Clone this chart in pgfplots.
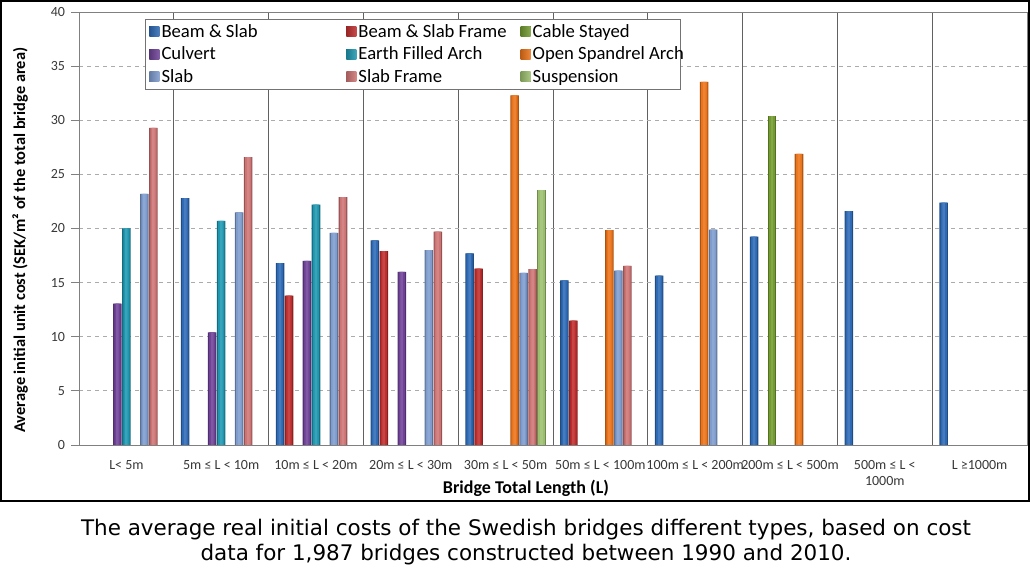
\documentclass[border=0pt]{standalone}
\usepackage{fontspec}
\setmainfont{Carlito}
\newfontfamily\capfont{DejaVu Sans}
\usepackage{pgfplots}
\pgfplotsset{compat=1.18}
\definecolor{cBS}{RGB}{45,105,180}
\definecolor{cBSF}{RGB}{190,45,45}
\definecolor{cCS}{RGB}{115,155,50}
\definecolor{cCU}{RGB}{110,65,150}
\definecolor{cEF}{RGB}{30,150,175}
\definecolor{cOS}{RGB}{235,115,25}
\definecolor{cSL}{RGB}{125,155,205}
\definecolor{cSF}{RGB}{205,115,115}
\definecolor{cSU}{RGB}{155,190,110}
\pgfplotsset{
  sbA/.style n args={2}{ybar, bar width=0.09, bar shift=#2, draw=none, fill=#1!72!black,
    legend image code/.code={\path[draw=none, left color=#1!80!black, right color=#1!85!white] (0pt,-3.6pt) rectangle (7.5pt,3.9pt);}},
  sbB/.style n args={2}{ybar, bar width=0.066, bar shift=#2, draw=none, fill=#1, forget plot},
  sbC/.style n args={2}{ybar, bar width=0.028, bar shift=#2, draw=none, fill=#1!88!white, forget plot},
}
\newcommand\series[5]{%
  \addplot[sbA={#1}{#2}] coordinates {#3};
  \addlegendentry{\makebox[#5][l]{#4}}
  \addplot[sbB={#1}{#2}] coordinates {#3};
  \addplot[sbC={#1}{#2}] coordinates {#3};
}
\begin{document}
\begin{tikzpicture}
\path[use as bounding box] (0,0) rectangle (772.5pt,435pt);
\draw[black, line width=1.3pt] (0.6pt,434.4pt) rectangle (771.9pt,59.4pt);
\begin{axis}[
  at={(59.25pt,101.25pt)}, anchor=south west,
  scale only axis, width=711pt, height=324.75pt,
  xmin=-0.5, xmax=9.5, ymin=0, ymax=40,
  ytick={0,5,...,40},
  xtick={0,...,9},
  xticklabels={L< 5m, 5m ≤ L < 10m, 10m ≤ L < 20m, 20m ≤ L < 30m, 30m ≤ L < 50m, 50m ≤ L < 100m, 100m ≤ L < 200m, 200m ≤ L < 500m, {500m ≤ L <\\1000m}, L ≥1000m},
  minor xtick={0.5,1.5,...,8.5},
  xminorgrids, ymajorgrids,
  minor x grid style={draw=black!62, line width=0.7pt},
  major y grid style={dashed, draw=black!33, line width=0.6pt},
  axis line style={draw=black!50, line width=0.7pt},
  tick pos=left, tick align=outside,
  x tick style={draw=none}, minor tick length=0pt,
  y tick style={draw=black!50, line width=0.6pt}, major tick length=6pt,
  /pgf/number format/assume math mode=true,
  tick label style={font=\fontsize{10.5}{12}\selectfont, text=black!78},
  xticklabel style={align=center, yshift=-2pt, font=\fontsize{10.5}{12}\selectfont},
  yticklabel style={xshift=-1pt},
  xlabel={Bridge Total Length (L)},
  xlabel style={at={(axis description cs:0.4715,0)}, anchor=center, yshift=-32.5pt, font=\bfseries\fontsize{13.5}{15}\selectfont},
  ylabel={Average initial unit cost (SEK/m² of the total bridge area)},
  ylabel style={at={(axis description cs:-0.0622,0.473)}, anchor=center, font=\bfseries\fontsize{12.3}{14}\selectfont},
  legend columns=3,
  legend cell align=left,
  legend style={at={(axis description cs:0.0696,0.9838)}, anchor=north west,
    draw=black!55, fill=white, line width=0.6pt, font=\fontsize{14}{16}\selectfont,
    inner xsep=3pt, inner ysep=2pt, row sep=2.6pt, column sep=0pt,
    nodes={inner sep=1.6pt}},
]
\series{cBS}{-0.3796}{(1,22.8) (2,16.8) (3,18.9) (4,17.7) (5,15.2) (6,15.65) (7,19.26) (8,21.6) (9,22.4)}{Beam \& Slab}{137pt}
\series{cBSF}{-0.2847}{(2,13.8) (3,17.9) (4,16.3) (5,11.5)}{Beam \& Slab Frame}{120pt}
\series{cCS}{-0.1898}{(7,30.4)}{Cable Stayed}{106pt}
\series{cCU}{-0.0949}{(0,13.05) (1,10.4) (2,17.0) (3,16.0)}{Culvert}{137pt}
\series{cEF}{0}{(0,20.0) (1,20.7) (2,22.2)}{Earth Filled Arch}{120pt}
\series{cOS}{0.0949}{(4,32.3) (5,19.85) (6,33.55) (7,26.9)}{Open Spandrel Arch}{106pt}
\series{cSL}{0.1898}{(0,23.2) (1,21.5) (2,19.6) (3,18.0) (4,15.9) (5,16.1) (6,19.9)}{Slab}{137pt}
\series{cSF}{0.2847}{(0,29.3) (1,26.6) (2,22.9) (3,19.7) (4,16.25) (5,16.55)}{Slab Frame}{120pt}
\series{cSU}{0.3796}{(4,23.6)}{Suspension}{106pt}
\node[rotate=90, font=\bfseries\fontsize{8.5}{10}\selectfont, anchor=center] at (axis description cs:-0.0446,0.941) {Thousands};
\end{axis}
\node[font=\capfont\fontsize{16.1}{18.75}\selectfont, align=center, anchor=center] at (394.5pt,28.5pt)
  {The average real initial costs of the Swedish bridges different types, based on cost\\data for 1,987 bridges constructed between 1990 and 2010.};
\end{tikzpicture}
\end{document}
